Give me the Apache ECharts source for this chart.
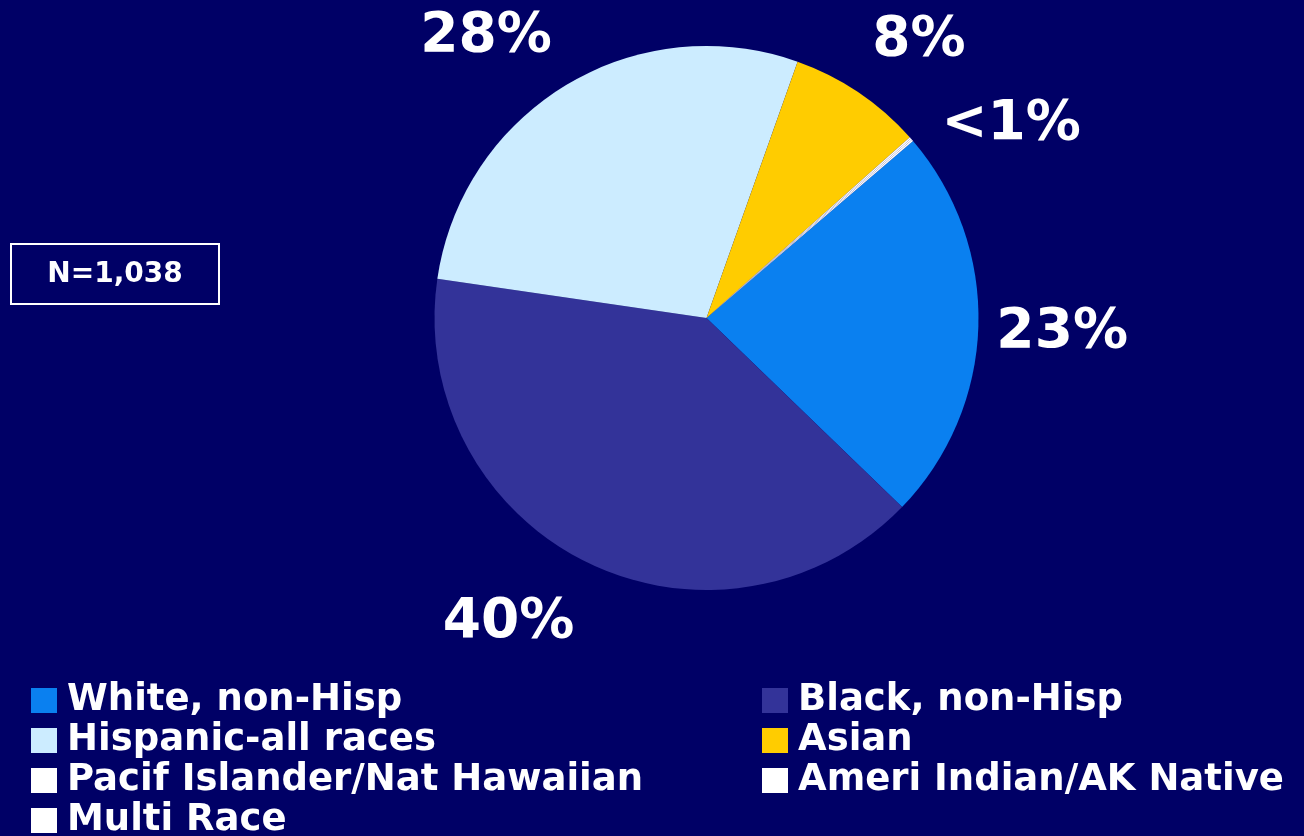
<!DOCTYPE html>
<html>
<head>
<meta charset="utf-8">
<script src="https://cdn.jsdelivr.net/npm/echarts@6/dist/echarts.min.js"></script>
<style>
  html, body { margin: 0; padding: 0; background: #000066; }
  #main { width: 1304px; height: 836px; }
</style>
</head>
<body>
<div id="main"></div>
<script>
// groups, counts (N=1,038) and the text printed beside each slice
var groups = ['White, non-Hisp', 'Black, non-Hisp', 'Hispanic-all races', 'Asian',
  'Pacif Islander/Nat Hawaiian', 'Ameri Indian/AK Native', 'Multi Race'];
var counts = [244, 416, 292, 83, 1, 1, 1];
var pctLabels = ['23%', '40%', '28%', '8%', '', '<1%', ''];
var colors = ['#0a80f0', '#333399', '#ccecff', '#ffcc00', '#ffffff', '#ffffff', '#ffffff'];

// nudges for the percent labels
var labelShift = [[1, 6], [-2, 50], [-3, -38], [2, -42], [0, 0], [16, -7], [0, 0]];

var font = 'DejaVu Sans';
var chart = echarts.init(document.getElementById('main'));

var data = groups.map(function (g, i) {
  return {
    name: g,
    value: counts[i],
    itemStyle: { color: colors[i] },
    label: { show: pctLabels[i] !== '' }
  };
});

var legendText = {
  color: '#ffffff',
  fontFamily: font,
  fontWeight: 'bold',
  fontSize: 37,
  padding: [0, 0, 0, 5]
};

function makeLegend(names, left, top) {
  return {
    data: names,
    orient: 'vertical',
    left: left,
    top: top,
    padding: 0,
    icon: 'rect',
    itemWidth: 26,
    itemHeight: 25,
    itemGap: 3,
    selectedMode: false,
    textStyle: legendText
  };
}

var option = {
  backgroundColor: '#000066',
  animation: false,
  legend: [
    makeLegend([groups[0], groups[2], groups[4]], 31, 682),
    makeLegend([groups[6]], 31, 802),
    makeLegend([groups[1], groups[3], groups[5]], 762, 682)
  ],
  graphic: [{
    type: 'rect',
    x: 11,
    y: 244,
    shape: { width: 208, height: 60 },
    style: { fill: 'none', stroke: '#ffffff', lineWidth: 2 }
  }, {
    type: 'text',
    x: 115,
    y: 275,
    style: {
      text: 'N=1,038',
      fill: '#ffffff',
      fontFamily: font,
      fontWeight: 'bold',
      fontSize: 28,
      align: 'center',
      verticalAlign: 'middle'
    }
  }],
  series: [{
    type: 'pie',
    center: [706.5, 318],
    radius: 272,
    startAngle: 40.6,
    clockwise: true,
    avoidLabelOverlap: false,
    legendHoverLink: false,
    label: {
      position: 'outside',
      color: '#ffffff',
      fontFamily: font,
      fontWeight: 'bold',
      fontSize: 55,
      formatter: function (p) { return pctLabels[p.dataIndex]; }
    },
    labelLine: { show: false, length: 12, length2: 0 },
    labelLayout: function (p) {
      var s = labelShift[p.dataIndex];
      return { dx: s[0], dy: s[1] };
    },
    data: data
  }]
};
chart.setOption(option);
</script>
</body>
</html>
